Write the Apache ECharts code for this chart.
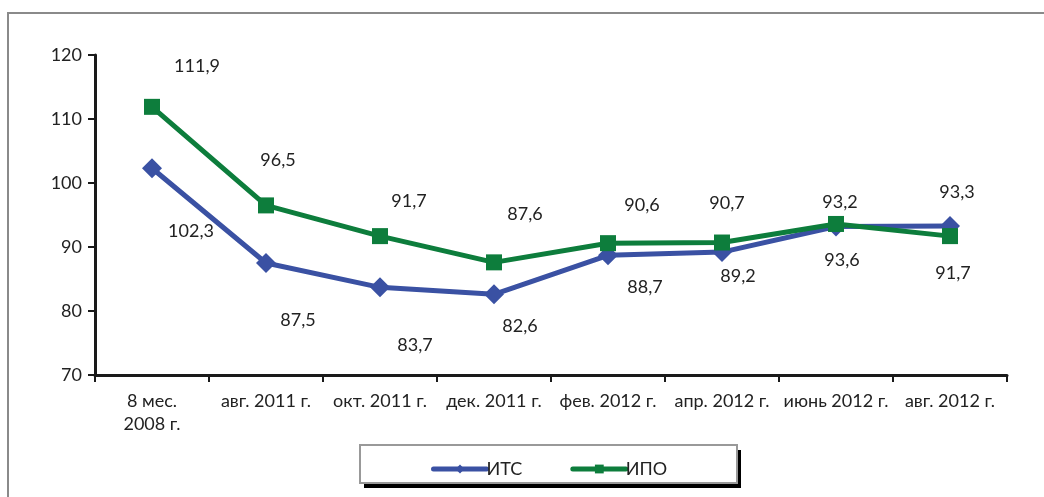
<!DOCTYPE html>
<html>
<head>
<meta charset="utf-8">
<script src="https://cdn.jsdelivr.net/npm/echarts@6/dist/echarts.min.js"></script>
<style>
html,body{margin:0;padding:0;background:#fff;}
#main{width:1044px;height:497px;}
</style>
</head>
<body>
<div id="main"></div>
<script>
var myChart = echarts.init(document.getElementById('main'));

var categories = ['8 мес.\n2008 г.', 'авг. 2011 г.', 'окт. 2011 г.', 'дек. 2011 г.', 'фев. 2012 г.', 'апр. 2012 г.', 'июнь 2012 г.', 'авг. 2012 г.'];
var itsValues = [102.3, 87.5, 83.7, 82.6, 88.7, 89.2, 93.2, 93.3];
var ipoValues = [111.9, 96.5, 91.7, 87.6, 90.6, 90.7, 93.6, 91.7];
// смещения подписей данных (как в исходной картинке)
var itsLabelOffsets = [[39, 63], [32, 57], [35, 58], [26, 32], [37, 32], [16, 24], [4, -24], [7, -34]];
var ipoLabelOffsets = [[45, -41], [12, -45], [29, -35], [31, -48], [34, -38], [5, -39], [6, 36], [3, 37]];

var fontFamily = 'Lato, "Open Sans", sans-serif';

function makeData(values, offsets) {
    return values.map(function (v, i) {
        return {
            value: v,
            label: {offset: offsets[i]}
        };
    });
}

var labelStyle = {
    show: true,
    position: 'inside',
    color: '#222',
    fontSize: 18,
    fontFamily: fontFamily,
    formatter: function (p) { return String(p.value).replace('.', ','); }
};

var option = {
    animation: false,
    textStyle: {fontFamily: fontFamily},
    graphic: [
        {
            type: 'rect',
            shape: {x: 8, y: 13, width: 1100, height: 600},
            style: {fill: 'none', stroke: '#8a8a8a', lineWidth: 2},
            silent: true
        },
        {
            type: 'rect',
            shape: {x: 364, y: 450, width: 377, height: 38},
            style: {fill: '#000'},
            silent: true,
            z: 0
        },
        {
            type: 'rect',
            shape: {x: 360, y: 445, width: 377, height: 38},
            style: {fill: '#fff', stroke: '#999', lineWidth: 2},
            silent: true,
            z: 1
        }
    ],
    grid: {
        left: 95,
        right: 37,
        top: 55,
        bottom: 122
    },
    legend: {
        left: 426,
        top: 455,
        itemWidth: 53,
        itemHeight: 11,
        itemGap: 48,
        z: 5,
        lineStyle: {width: 5, cap: 'round'},
        textStyle: {fontSize: 18, color: '#222', fontFamily: fontFamily, padding: [0, 0, 0, -5]},
        data: ['ИТС', 'ИПО']
    },
    xAxis: {
        type: 'category',
        data: categories,
        boundaryGap: true,
        axisLine: {lineStyle: {color: '#1a1a1a', width: 3}},
        axisTick: {show: true, inside: false, length: 7, lineStyle: {color: '#1a1a1a', width: 2}},
        axisLabel: {color: '#222', fontSize: 18, fontFamily: fontFamily, margin: 15, lineHeight: 23, interval: 0}
    },
    yAxis: {
        type: 'value',
        min: 70,
        max: 120,
        interval: 10,
        splitLine: {show: false},
        axisLine: {show: true, lineStyle: {color: '#1a1a1a', width: 3}},
        axisTick: {show: true, inside: false, length: 7, lineStyle: {color: '#1a1a1a', width: 2}},
        axisLabel: {color: '#222', fontSize: 18, fontFamily: fontFamily, margin: 13}
    },
    series: [
        {
            name: 'ИТС',
            type: 'line',
            symbol: 'diamond',
            symbolSize: 20,
            itemStyle: {color: '#3a51a3'},
            lineStyle: {color: '#3a51a3', width: 5},
            label: labelStyle,
            data: makeData(itsValues, itsLabelOffsets),
            z: 3
        },
        {
            name: 'ИПО',
            type: 'line',
            symbol: 'rect',
            symbolSize: 16,
            itemStyle: {color: '#0d7d3c'},
            lineStyle: {color: '#0d7d3c', width: 5},
            label: labelStyle,
            data: makeData(ipoValues, ipoLabelOffsets),
            z: 4
        }
    ]
};
myChart.setOption(option);
</script>
</body>
</html>
